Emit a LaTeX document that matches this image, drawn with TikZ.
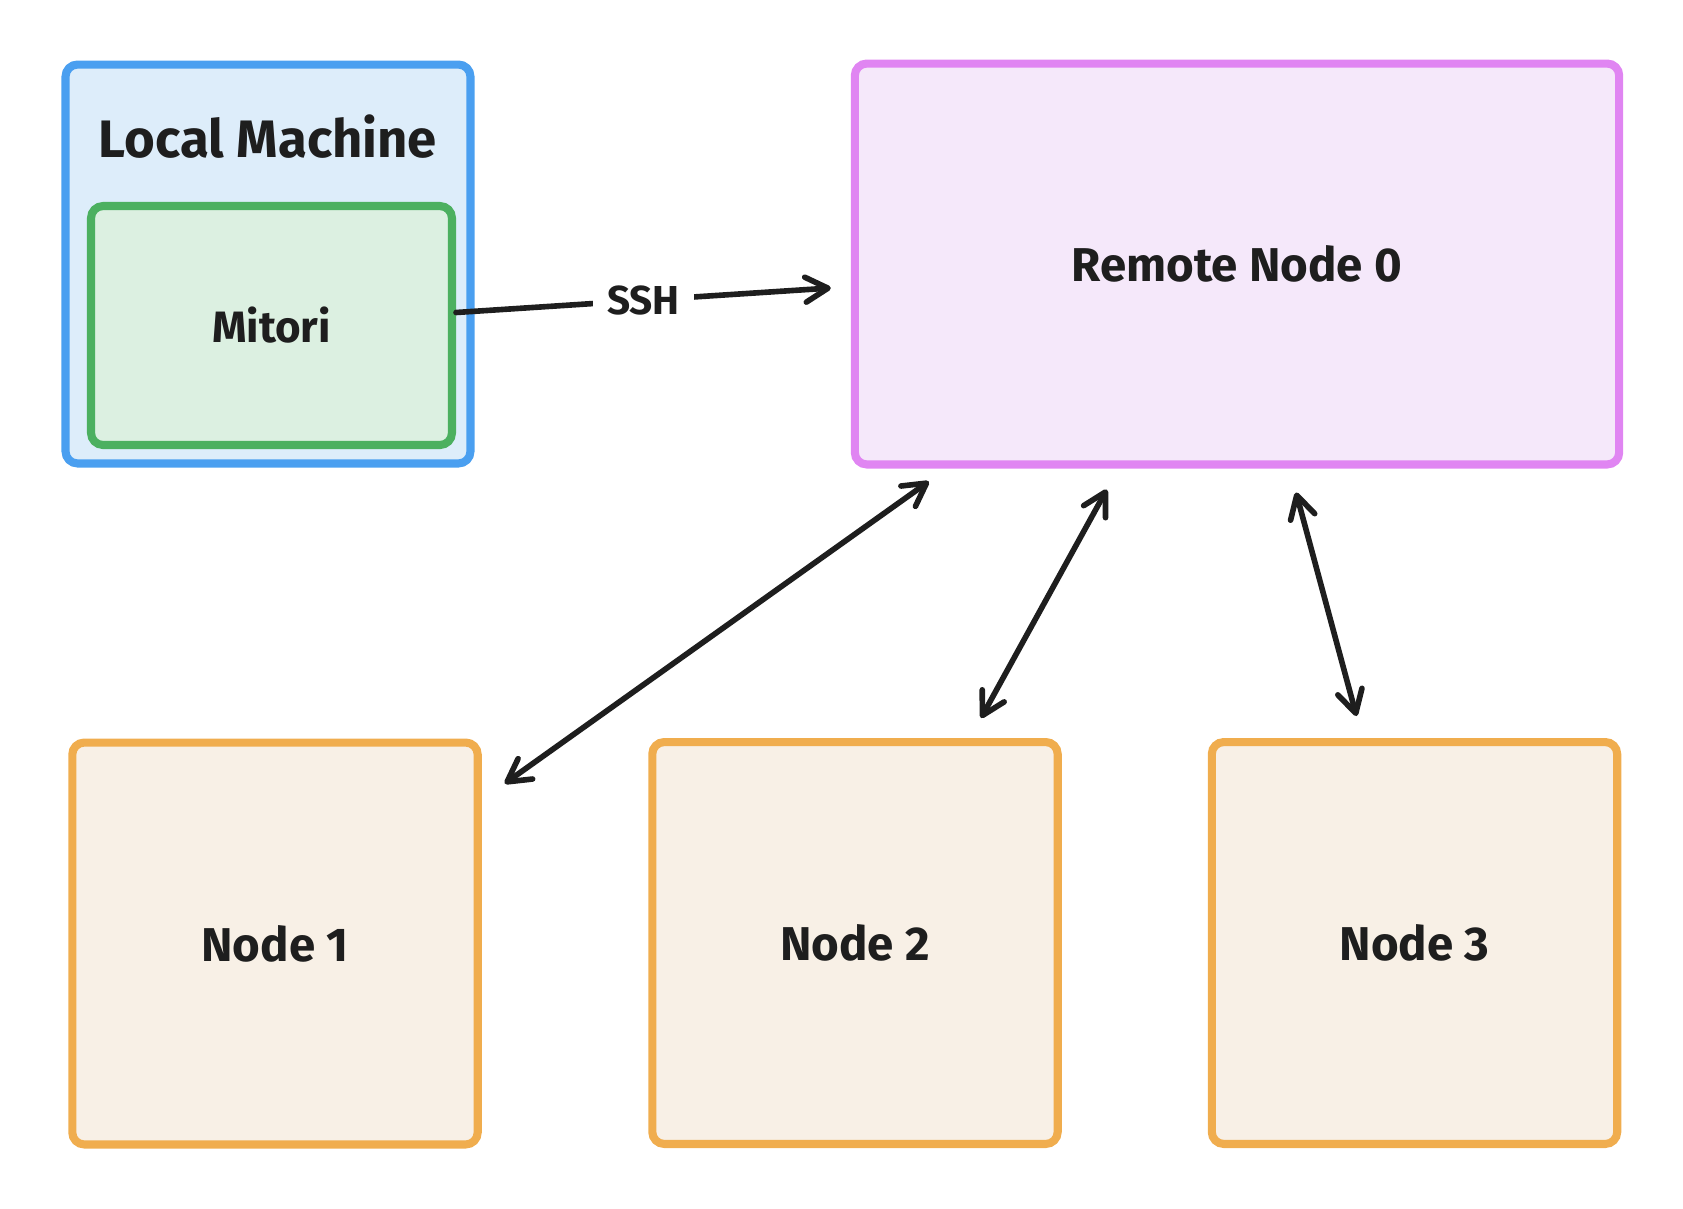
\documentclass[tikz,border=0pt]{standalone}
\usepackage{fontspec}
\setmainfont{Fira Sans}
\usetikzlibrary{arrows.meta, positioning}
\definecolor{tinta}{HTML}{1E1E1E}
\definecolor{azulborde}{HTML}{4A9FF0}
\definecolor{azulfondo}{HTML}{DDEDFA}
\definecolor{verdeborde}{HTML}{4CB060}
\definecolor{verdefondo}{HTML}{DCF0E1}
\definecolor{rosaborde}{HTML}{E085F2}
\definecolor{rosafondo}{HTML}{F5E8FA}
\definecolor{naranjaborde}{HTML}{F0AD4E}
\definecolor{naranjafondo}{HTML}{F8F0E6}
\tikzset{
    caja/.style={draw, rounded corners=0.24cm, line width=4.6pt, inner sep=0pt, text=tinta, font=\bfseries\fontsize{27}{32}\selectfont},
    nodobox/.style={caja, draw=naranjaborde, fill=naranjafondo, minimum width=8.11cm, minimum height=8.04cm},
    flecha/.style={draw=tinta, line width=3.2pt, line cap=round, -{Straight Barb[length=0.45cm, width=0.5cm, round]}},
    dobleflecha/.style={flecha, {Straight Barb[length=0.45cm, width=0.5cm, round]}-{Straight Barb[length=0.45cm, width=0.5cm, round]}},
}

\begin{document}
\begin{tikzpicture}[x=0.02cm, y=-0.02cm]
\useasboundingbox (0,0) rectangle (1683,1208);

% Maquina local con Mitori dentro
\node[caja, draw=azulborde, fill=azulfondo, minimum width=8.1cm, minimum height=7.98cm] (local) at (268,264) {};
\node[text=tinta, font=\bfseries\fontsize{30}{35}\selectfont] (locallabel) at (268,137) {Local Machine};
\node[caja, draw=verdeborde, fill=verdefondo, minimum width=7.22cm, minimum height=4.78cm, font=\bfseries\fontsize{25}{30}\selectfont] (mitori) at (271.5,325.5) {Mitori};

% Nodo remoto
\node[caja, draw=rosaborde, fill=rosafondo, minimum width=15.29cm, minimum height=8.02cm] (remoto) at (1237,264) {Remote Node 0};

% Nodos de trabajo
\node[nodobox] (nodo1) at (275,943.5) {Node 1};
\node[nodobox] (nodo2) at (855,943) {Node 2};
\node[nodobox] (nodo3) at (1414.5,943) {Node 3};

% Conexiones
\draw[flecha] ([shift={(0,-13)}]mitori.east) -- node[fill=white, inner xsep=8pt, text=tinta, font=\bfseries\fontsize{23}{28}\selectfont] (ssh) {SSH} ([shift={(-20,24)}]remoto.west);
\draw[dobleflecha] ([shift={(23,45)}]nodo1.north east) -- ([shift={(78,13)}]remoto.south west);
\draw[dobleflecha] ([shift={(126,-20)}]nodo2.north) -- ([shift={(256,21)}]remoto.south west);
\draw[dobleflecha] ([shift={(59,24)}]remoto.south) -- ([shift={(-58,-22)}]nodo3.north);
\end{tikzpicture}
\end{document}
